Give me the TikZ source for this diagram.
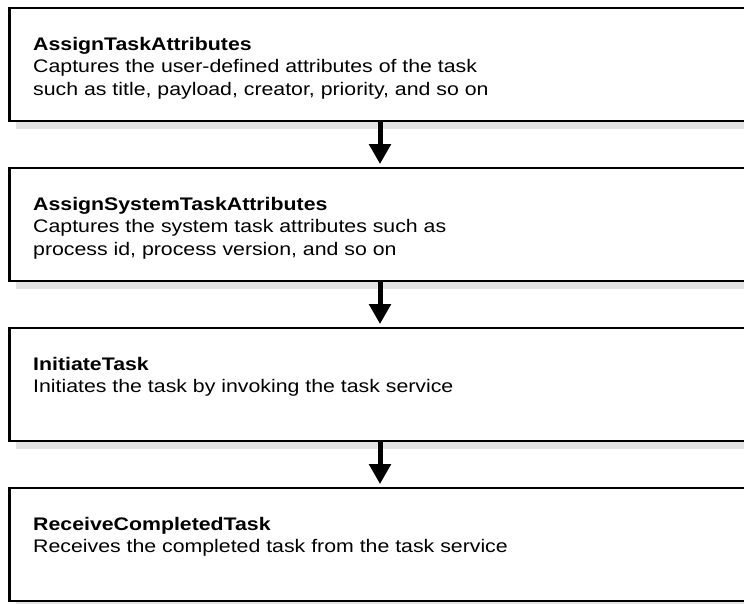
\documentclass[tikz,border=0pt]{standalone}
\usepackage{fontspec}
\setmainfont{Liberation Sans}[FakeStretch=1.17]
\usetikzlibrary{arrows.meta}
\begin{document}
\begin{tikzpicture}[x=1pt,y=-1pt,
  box/.style={draw=black, line width=2.2pt, fill=white, inner sep=0pt,
    minimum width=762pt, minimum height=113.5pt, anchor=north west},
  shadowbox/.style={fill=black!11, draw=none},
  title/.style={anchor=base west, inner sep=0pt, font=\fontsize{18.2pt}{22.7pt}\selectfont\bfseries},
  desc/.style={anchor=base west, inner sep=0pt, font=\fontsize{18.2pt}{22.7pt}\selectfont},
  flow/.style={line width=5pt, -{Triangle[width=21pt,length=20pt]}}]
\useasboundingbox (0,0) rectangle (744,603);
\clip (0,0) rectangle (744,603);
\coordinate (axis) at (380,0);
% shadows
\foreach \t in {0,160,320,480}{
  \fill[black!11] (16,121+\t) rectangle (780,129+\t);
}
% boxes
\node[box] (b1) at (8.3,6.5) {};
\node[box] (b2) at (8.3,166.5) {};
\node[box] (b3) at (8.3,326.5) {};
\node[box] (b4) at (8.3,486.5) {};
% texts
\node[title] (t1) at (33,50) {AssignTaskAttributes};
\node[desc] (d1a) at (33,72.7) {Captures the user-defined attributes of the task};
\node[desc] (d1b) at (33,95.4) {such as title, payload, creator, priority, and so on};
\node[title] (t2) at (33,210) {AssignSystemTaskAttributes};
\node[desc] (d2a) at (33,232.7) {Captures the system task attributes such as};
\node[desc] (d2b) at (33,255.4) {process id, process version, and so on};
\node[title] (t3) at (33,370) {InitiateTask};
\node[desc] (d3a) at (33,392.7) {Initiates the task by invoking the task service};
\node[title] (t4) at (33,530) {ReceiveCompletedTask};
\node[desc] (d4a) at (33,552.7) {Receives the completed task from the task service};
% arrows
\draw[flow] (b1.south -| axis) -- ([yshift=2.4pt]b2.north -| axis);
\draw[flow] (b2.south -| axis) -- ([yshift=2.4pt]b3.north -| axis);
\draw[flow] (b3.south -| axis) -- ([yshift=2.4pt]b4.north -| axis);
\end{tikzpicture}
\end{document}
